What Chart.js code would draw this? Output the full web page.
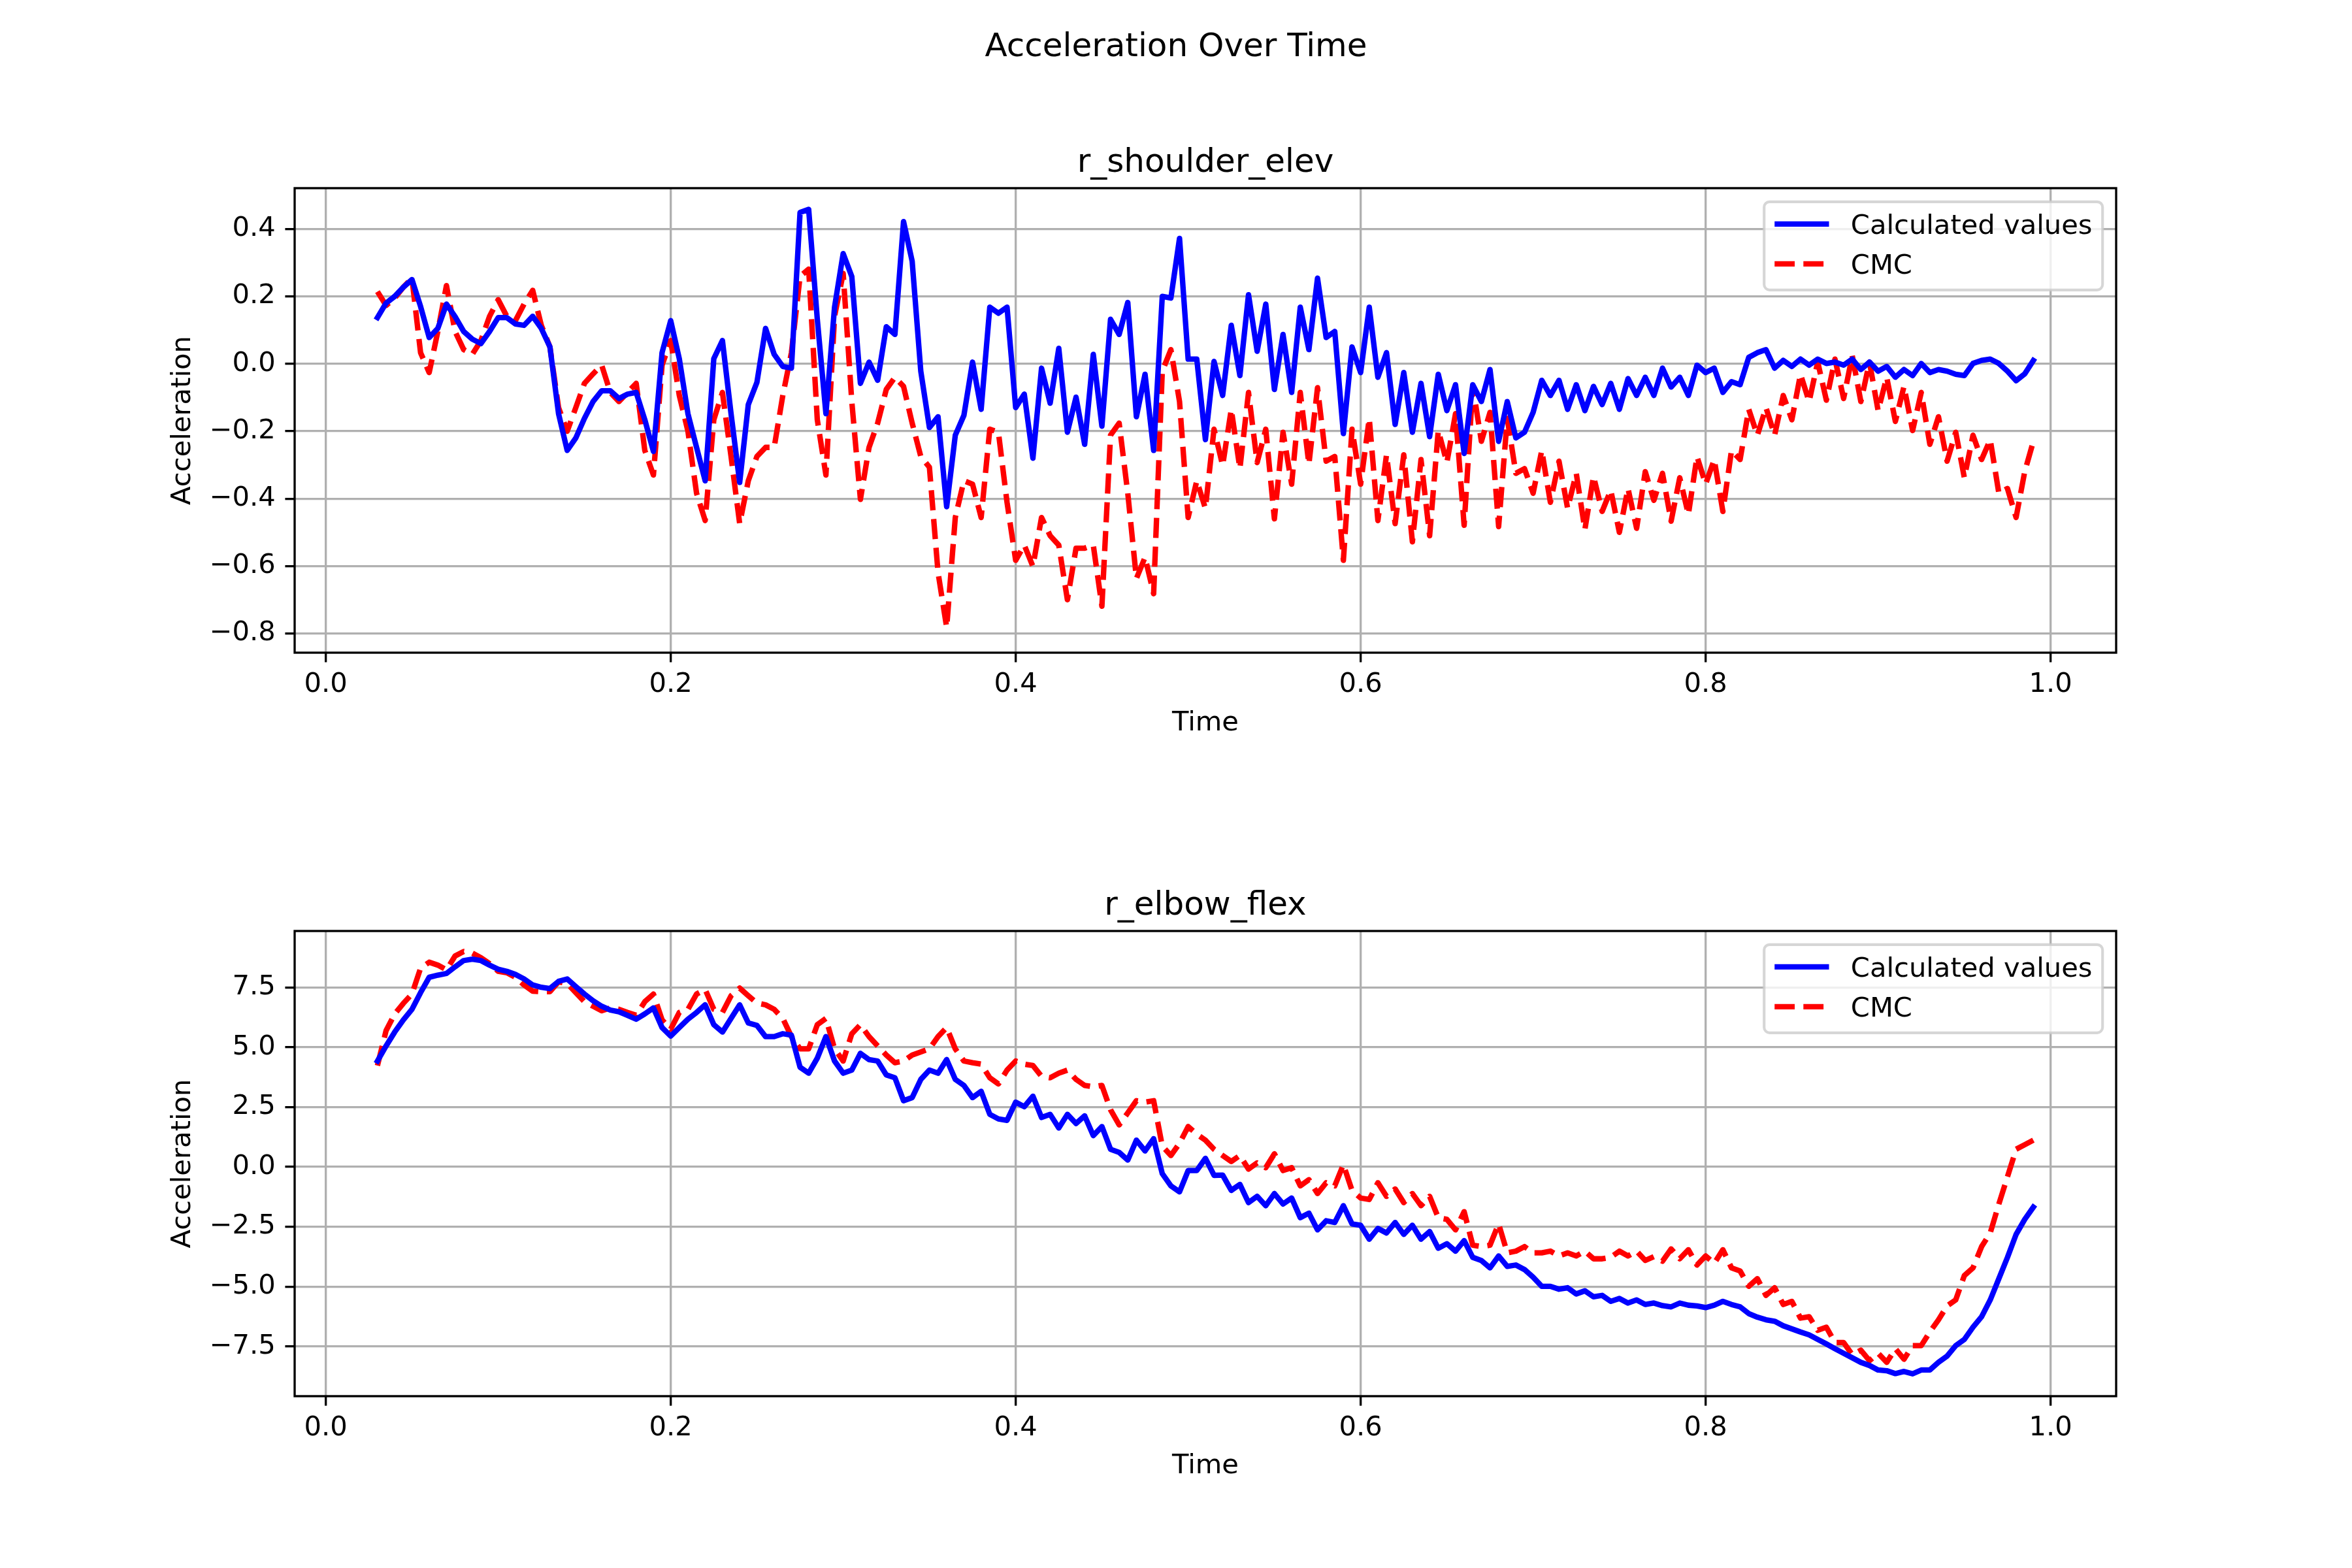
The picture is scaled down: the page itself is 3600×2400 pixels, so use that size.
<!DOCTYPE html>
<html>
<head>
<meta charset="utf-8">
<script src="https://cdn.jsdelivr.net/npm/chart.js@4.4.1/dist/chart.umd.min.js"></script>
<style>
  html, body { margin: 0; padding: 0; background: #ffffff; }
  #wrap { position: relative; width: 3600px; height: 2400px; background: #ffffff; overflow: hidden; }
  canvas { position: absolute; left: 0; }
</style>
</head>
<body>
<div id="wrap">
  <canvas id="cTop" width="3600" height="1200" style="top:0px;width:3600px;height:1200px"></canvas>
  <canvas id="cBot" width="3600" height="1200" style="top:1200px;width:3600px;height:1200px"></canvas>
</div>
<script>
// ---------------- DATA ----------------
const figureTitle = "Acceleration Over Time";
const panelTitles = ["r_shoulder_elev", "r_elbow_flex"];
const seriesNames = ["Calculated values", "CMC"];
const xAxisLabel = "Time";
const yAxisLabel = "Acceleration";

const time = [
  0.03,0.035,0.04,0.045,0.05,0.055,0.06,0.065,0.07,0.075,0.08,0.085,0.09,0.095,0.1,0.105,0.11,0.115,0.12,0.125,
  0.13,0.135,0.14,0.145,0.15,0.155,0.16,0.165,0.17,0.175,0.18,0.185,0.19,0.195,0.2,0.205,0.21,0.215,0.22,0.225,
  0.23,0.235,0.24,0.245,0.25,0.255,0.26,0.265,0.27,0.275,0.28,0.285,0.29,0.295,0.3,0.305,0.31,0.315,0.32,0.325,
  0.33,0.335,0.34,0.345,0.35,0.355,0.36,0.365,0.37,0.375,0.38,0.385,0.39,0.395,0.4,0.405,0.41,0.415,0.42,0.425,
  0.43,0.435,0.44,0.445,0.45,0.455,0.46,0.465,0.47,0.475,0.48,0.485,0.49,0.495,0.5,0.505,0.51,0.515,0.52,0.525,
  0.53,0.535,0.54,0.545,0.55,0.555,0.56,0.565,0.57,0.575,0.58,0.585,0.59,0.595,0.6,0.605,0.61,0.615,0.62,0.625,
  0.63,0.635,0.64,0.645,0.65,0.655,0.66,0.665,0.67,0.675,0.68,0.685,0.69,0.695,0.7,0.705,0.71,0.715,0.72,0.725,
  0.73,0.735,0.74,0.745,0.75,0.755,0.76,0.765,0.77,0.775,0.78,0.785,0.79,0.795,0.8,0.805,0.81,0.815,0.82,0.825,
  0.83,0.835,0.84,0.845,0.85,0.855,0.86,0.865,0.87,0.875,0.88,0.885,0.89,0.895,0.9,0.905,0.91,0.915,0.92,0.925,
  0.93,0.935,0.94,0.945,0.95,0.955,0.96,0.965,0.97,0.975,0.98,0.985,0.99
];

const shoulderCalc = [
  0.137,0.18,0.2,0.227,0.25,0.17,0.078,0.105,0.177,0.14,0.096,0.073,0.06,0.096,0.137,0.137,0.118,0.114,0.141,0.105,
  0.05,-0.148,-0.257,-0.22,-0.162,-0.112,-0.08,-0.08,-0.103,-0.09,-0.085,-0.166,-0.26,0.033,0.128,0.015,-0.148,-0.248,-0.347,0.015,
  0.069,-0.148,-0.352,-0.121,-0.055,0.105,0.028,-0.008,-0.013,0.449,0.458,0.132,-0.148,0.168,0.327,0.259,-0.058,0.005,-0.049,0.11,
  0.087,0.422,0.304,-0.022,-0.189,-0.157,-0.424,-0.212,-0.153,0.005,-0.135,0.168,0.15,0.168,-0.13,-0.09,-0.28,-0.013,-0.117,0.046,
  -0.203,-0.099,-0.239,0.028,-0.185,0.132,0.087,0.182,-0.157,-0.031,-0.257,0.2,0.195,0.372,0.014,0.014,-0.225,0.007,-0.094,0.114,
  -0.035,0.205,0.037,0.177,-0.076,0.087,-0.085,0.168,0.042,0.254,0.078,0.096,-0.207,0.05,-0.026,0.168,-0.04,0.033,-0.18,-0.026,
  -0.203,-0.058,-0.216,-0.031,-0.139,-0.062,-0.266,-0.062,-0.112,-0.017,-0.23,-0.112,-0.22,-0.203,-0.144,-0.049,-0.094,-0.049,-0.135,-0.062,
  -0.139,-0.067,-0.121,-0.058,-0.135,-0.044,-0.094,-0.04,-0.094,-0.013,-0.069,-0.04,-0.094,-0.004,-0.026,-0.013,-0.085,-0.053,-0.062,0.019,
  0.033,0.042,-0.013,0.01,-0.008,0.014,-0.004,0.014,0.001,0.005,-0.004,0.014,-0.017,0.005,-0.022,-0.008,-0.04,-0.017,-0.035,0.001,
  -0.026,-0.017,-0.022,-0.031,-0.035,0.001,0.01,0.014,0.001,-0.022,-0.05,-0.03,0.01
];

const shoulderCMC = [
  0.214,0.173,0.195,0.227,0.254,0.033,-0.026,0.096,0.232,0.096,0.042,0.028,0.069,0.141,0.19,0.141,0.128,0.177,0.218,0.114,
  0.05,-0.13,-0.2,-0.13,-0.058,-0.03,-0.004,-0.085,-0.112,-0.085,-0.058,-0.257,-0.33,-0.004,0.069,-0.094,-0.2,-0.384,-0.465,-0.166,
  -0.085,-0.275,-0.474,-0.347,-0.275,-0.248,-0.248,-0.094,0.033,0.259,0.281,-0.166,-0.33,0.141,0.268,-0.112,-0.402,-0.248,-0.176,-0.076,
  -0.04,-0.067,-0.176,-0.275,-0.307,-0.619,-0.782,-0.456,-0.347,-0.357,-0.456,-0.194,-0.203,-0.411,-0.583,-0.538,-0.601,-0.456,-0.51,-0.538,
  -0.7,-0.547,-0.547,-0.538,-0.719,-0.212,-0.176,-0.384,-0.637,-0.574,-0.682,-0.022,0.042,-0.112,-0.456,-0.347,-0.429,-0.194,-0.302,-0.135,
  -0.311,-0.085,-0.293,-0.194,-0.46,-0.203,-0.357,-0.085,-0.298,-0.071,-0.289,-0.275,-0.583,-0.194,-0.357,-0.162,-0.465,-0.27,-0.474,-0.27,
  -0.528,-0.284,-0.51,-0.198,-0.293,-0.148,-0.479,-0.067,-0.23,-0.144,-0.483,-0.162,-0.325,-0.311,-0.384,-0.257,-0.411,-0.289,-0.429,-0.325,
  -0.492,-0.334,-0.438,-0.375,-0.5,-0.37,-0.488,-0.32,-0.405,-0.325,-0.467,-0.338,-0.447,-0.275,-0.357,-0.284,-0.438,-0.257,-0.284,-0.135,
  -0.212,-0.13,-0.212,-0.094,-0.166,-0.031,-0.112,0.005,-0.108,0.014,-0.103,0.024,-0.112,0.005,-0.139,-0.04,-0.171,-0.067,-0.198,-0.085,
  -0.239,-0.157,-0.289,-0.203,-0.338,-0.212,-0.284,-0.225,-0.384,-0.37,-0.456,-0.32,-0.23
];

const elbowCalc = [
  4.43,5.06,5.64,6.15,6.59,7.29,7.93,8.02,8.09,8.37,8.63,8.69,8.63,8.44,8.27,8.18,8.05,7.86,7.61,7.51,
  7.46,7.76,7.86,7.54,7.23,6.95,6.72,6.56,6.49,6.34,6.18,6.4,6.65,5.83,5.47,5.83,6.18,6.46,6.78,5.95,
  5.64,6.21,6.78,6.02,5.92,5.45,5.45,5.57,5.51,4.17,3.92,4.55,5.45,4.43,3.92,4.05,4.75,4.49,4.43,3.85,
  3.73,2.77,2.9,3.66,4.05,3.92,4.49,3.66,3.41,2.9,3.16,2.2,2.01,1.95,2.71,2.52,2.96,2.07,2.2,1.63,
  2.2,1.82,2.14,1.31,1.69,0.74,0.61,0.29,1.12,0.67,1.18,-0.28,-0.79,-1.04,-0.15,-0.15,0.36,-0.35,-0.34,-0.98,
  -0.73,-1.49,-1.23,-1.62,-1.11,-1.55,-1.3,-2.12,-1.93,-2.63,-2.25,-2.32,-1.62,-2.38,-2.44,-3.02,-2.57,-2.76,-2.32,-2.82,
  -2.44,-3.02,-2.7,-3.4,-3.21,-3.52,-3.08,-3.78,-3.91,-4.22,-3.72,-4.16,-4.1,-4.29,-4.61,-4.99,-4.99,-5.11,-5.05,-5.31,
  -5.18,-5.43,-5.37,-5.62,-5.5,-5.69,-5.56,-5.75,-5.69,-5.8,-5.85,-5.69,-5.78,-5.81,-5.88,-5.78,-5.62,-5.75,-5.85,-6.13,
  -6.28,-6.39,-6.45,-6.64,-6.77,-6.9,-7.02,-7.21,-7.4,-7.6,-7.79,-7.98,-8.17,-8.3,-8.49,-8.52,-8.64,-8.55,-8.65,-8.49,
  -8.49,-8.17,-7.91,-7.47,-7.21,-6.7,-6.26,-5.56,-4.67,-3.78,-2.82,-2.19,-1.68
];

const elbowCMC = [
  4.24,5.7,6.4,6.84,7.23,8.31,8.56,8.44,8.24,8.82,9.01,8.94,8.75,8.5,8.18,8.12,7.93,7.61,7.35,7.33,
  7.33,7.74,7.67,7.29,6.91,6.72,6.53,6.65,6.59,6.46,6.34,6.91,7.23,6.15,5.76,6.46,6.59,7.23,7.42,6.59,
  6.46,7.16,7.48,7.16,6.85,6.78,6.59,6.21,5.45,4.94,4.94,5.95,6.21,4.94,4.43,5.57,5.95,5.45,5.06,4.68,
  4.36,4.43,4.68,4.81,4.94,5.45,5.83,4.94,4.43,4.36,4.3,3.73,3.47,4.05,4.43,4.3,4.24,3.79,3.73,3.92,
  4.05,3.66,3.41,3.35,3.41,2.39,1.76,2.26,2.77,2.71,2.77,0.87,0.48,0.99,1.69,1.37,1.12,0.74,0.48,0.23,
  0.48,-0.09,0.17,-0.03,0.55,-0.15,-0.03,-0.79,-0.53,-1.11,-0.66,-0.79,0.1,-0.98,-1.3,-1.36,-0.66,-1.23,-0.92,-1.49,
  -1.11,-1.62,-1.23,-2.12,-2.19,-2.63,-1.87,-3.27,-3.33,-3.27,-2.38,-3.59,-3.52,-3.33,-3.59,-3.59,-3.52,-3.72,-3.59,-3.72,
  -3.52,-3.84,-3.84,-3.78,-3.52,-3.72,-3.52,-3.91,-3.75,-3.94,-3.43,-3.84,-3.46,-4.1,-3.72,-4.03,-3.46,-4.22,-4.35,-4.99,
  -4.67,-5.37,-5.05,-5.75,-5.62,-6.32,-6.26,-6.83,-6.7,-7.34,-7.34,-7.85,-7.66,-8.1,-7.79,-8.17,-7.6,-8.04,-7.47,-7.47,
  -6.9,-6.39,-5.81,-5.56,-4.54,-4.22,-3.33,-2.76,-1.55,-0.41,0.74,0.93,1.12
];

const xTicks = [0.0, 0.2, 0.4, 0.6, 0.8, 1.0];
const shoulderYTicks = [-0.8, -0.6, -0.4, -0.2, 0.0, 0.2, 0.4];
const elbowYTicks = [-7.5, -5.0, -2.5, 0.0, 2.5, 5.0, 7.5];

// ---------------- STYLE ----------------
const FONT = "DejaVu Sans";
const FS = 41.67;          // 10pt @ 300dpi
const TFS = 50;            // 12pt @ 300dpi
const LW = 8.33;           // 2pt line
const SP = 3.33;           // 0.8pt spines/grid
const DASH = [30.8, 13.3];
const BLUE = "#0000ff", RED = "#ff0000";

function fmt(v) {
  const s = (Math.abs(v) < 1e-9 ? 0 : v).toFixed(1);
  return s.replace("-", "\u2212");
}

function roundRectPath(ctx, x, y, w, h, r) {
  ctx.beginPath();
  ctx.moveTo(x + r, y);
  ctx.lineTo(x + w - r, y);
  ctx.arcTo(x + w, y, x + w, y + r, r);
  ctx.lineTo(x + w, y + h - r);
  ctx.arcTo(x + w, y + h, x + w - r, y + h, r);
  ctx.lineTo(x + r, y + h);
  ctx.arcTo(x, y + h, x, y + h - r, r);
  ctx.lineTo(x, y + r);
  ctx.arcTo(x, y, x + r, y, r);
  ctx.closePath();
}

const decorPlugin = {
  id: "decor",
  afterDatasetsDraw(chart, args, opts) {
    const ctx = chart.ctx, a = chart.chartArea;
    ctx.save();
    // spines (all four sides)
    ctx.setLineDash([]);
    ctx.strokeStyle = "#000000";
    ctx.lineWidth = SP;
    ctx.strokeRect(a.left, a.top, a.right - a.left, a.bottom - a.top);

    // legend (upper right)
    const right = a.right - 20.8, top = a.top + 20.8, w = 518, h = 135;
    const left = right - w;
    roundRectPath(ctx, left, top, w, h, 8.3);
    ctx.fillStyle = "rgba(255,255,255,0.8)";
    ctx.fill();
    ctx.strokeStyle = "rgba(204,204,204,0.8)";
    ctx.lineWidth = 4.17;
    ctx.stroke();
    const items = chart.data.datasets;
    const rows = [top + 34, top + 95];
    items.forEach((ds, k) => {
      const yc = rows[k];
      const x0 = left + 16, x1 = x0 + 83.3;
      ctx.beginPath();
      ctx.setLineDash(ds.borderDash || []);
      ctx.lineCap = (ds.borderDash && ds.borderDash.length) ? "butt" : "square";
      ctx.strokeStyle = ds.borderColor;
      ctx.lineWidth = LW;
      ctx.moveTo(x0 + (ctx.lineCap === "square" ? LW / 2 : 0), yc);
      ctx.lineTo(x1 - (ctx.lineCap === "square" ? LW / 2 : 0), yc);
      ctx.stroke();
      ctx.setLineDash([]);
      ctx.fillStyle = "#000000";
      ctx.font = FS + "px '" + FONT + "'";
      ctx.textAlign = "left";
      ctx.textBaseline = "alphabetic";
      ctx.fillText(ds.label, x1 + 33.3, yc + 15);
    });

    // panel title
    ctx.fillStyle = "#000000";
    ctx.font = TFS + "px '" + FONT + "'";
    ctx.textAlign = "center";
    ctx.textBaseline = "alphabetic";
    ctx.fillText(opts.title, (a.left + a.right) / 2, a.top - 25);

    // figure title
    if (opts.suptitle) {
      ctx.fillText(opts.suptitle, 1800, 86);
    }
    ctx.restore();
  }
};

function makeChart(id, calc, cmc, yMin, yMax, yTicks, title, suptitle, padTop, xAxisH, xTitlePad) {
  const tickFont = { family: FONT, size: FS };
  return new Chart(document.getElementById(id), {
    type: "line",
    data: {
      labels: time,
      datasets: [
        { label: seriesNames[0], data: calc, borderColor: BLUE, backgroundColor: BLUE,
          borderWidth: LW, pointRadius: 0, pointHoverRadius: 0, tension: 0, fill: false,
          borderJoinStyle: "round", borderCapStyle: "square" },
        { label: seriesNames[1], data: cmc, borderColor: RED, backgroundColor: RED,
          borderWidth: LW, borderDash: DASH, pointRadius: 0, pointHoverRadius: 0, tension: 0, fill: false,
          borderJoinStyle: "round", borderCapStyle: "butt" }
      ]
    },
    options: {
      responsive: false,
      maintainAspectRatio: false,
      devicePixelRatio: 1,
      animation: false,
      events: [],
      layout: { padding: { left: 255, right: 361, top: padTop, bottom: 0 } },
      plugins: {
        legend: { display: false },
        title: { display: false },
        tooltip: { enabled: false },
        decor: { title: title, suptitle: suptitle }
      },
      scales: {
        x: {
          type: "linear",
          min: -0.018, max: 1.038,
          afterBuildTicks: (s) => { s.ticks = xTicks.map(v => ({ value: v })); },
          afterFit: (s) => { s.height = xAxisH; },
          ticks: { callback: (v) => fmt(v), font: tickFont, color: "#000000", padding: 10,
                   maxRotation: 0, minRotation: 0, autoSkip: false },
          grid: { color: "#b0b0b0", lineWidth: SP, drawTicks: true, tickLength: 14.6,
                  tickColor: "#000000", tickWidth: SP, drawOnChartArea: true },
          border: { display: false },
          title: { display: true, text: xAxisLabel, font: tickFont, color: "#000000",
                   padding: { top: 0, bottom: xTitlePad } }
        },
        y: {
          type: "linear",
          min: yMin, max: yMax,
          afterBuildTicks: (s) => { s.ticks = yTicks.map(v => ({ value: v })); },
          afterFit: (s) => { s.width = 196; },
          ticks: { callback: (v) => fmt(v), font: tickFont, color: "#000000", padding: 14.6, autoSkip: false },
          grid: { color: "#b0b0b0", lineWidth: SP, drawTicks: true, tickLength: 14.6,
                  tickColor: "#000000", tickWidth: SP },
          border: { display: false },
          title: { display: true, text: yAxisLabel, font: tickFont, color: "#000000",
                   padding: { top: 0, bottom: 0 } }
        }
      }
    },
    plugins: [decorPlugin]
  });
}

makeChart("cTop", shoulderCalc, shoulderCMC, -0.857, 0.521, shoulderYTicks,
          panelTitles[0], figureTitle, 288, 201, 68);
makeChart("cBot", elbowCalc, elbowCMC, -9.584, 9.866, elbowYTicks,
          panelTitles[1], null, 225, 263, 131);
</script>
</body>
</html>
